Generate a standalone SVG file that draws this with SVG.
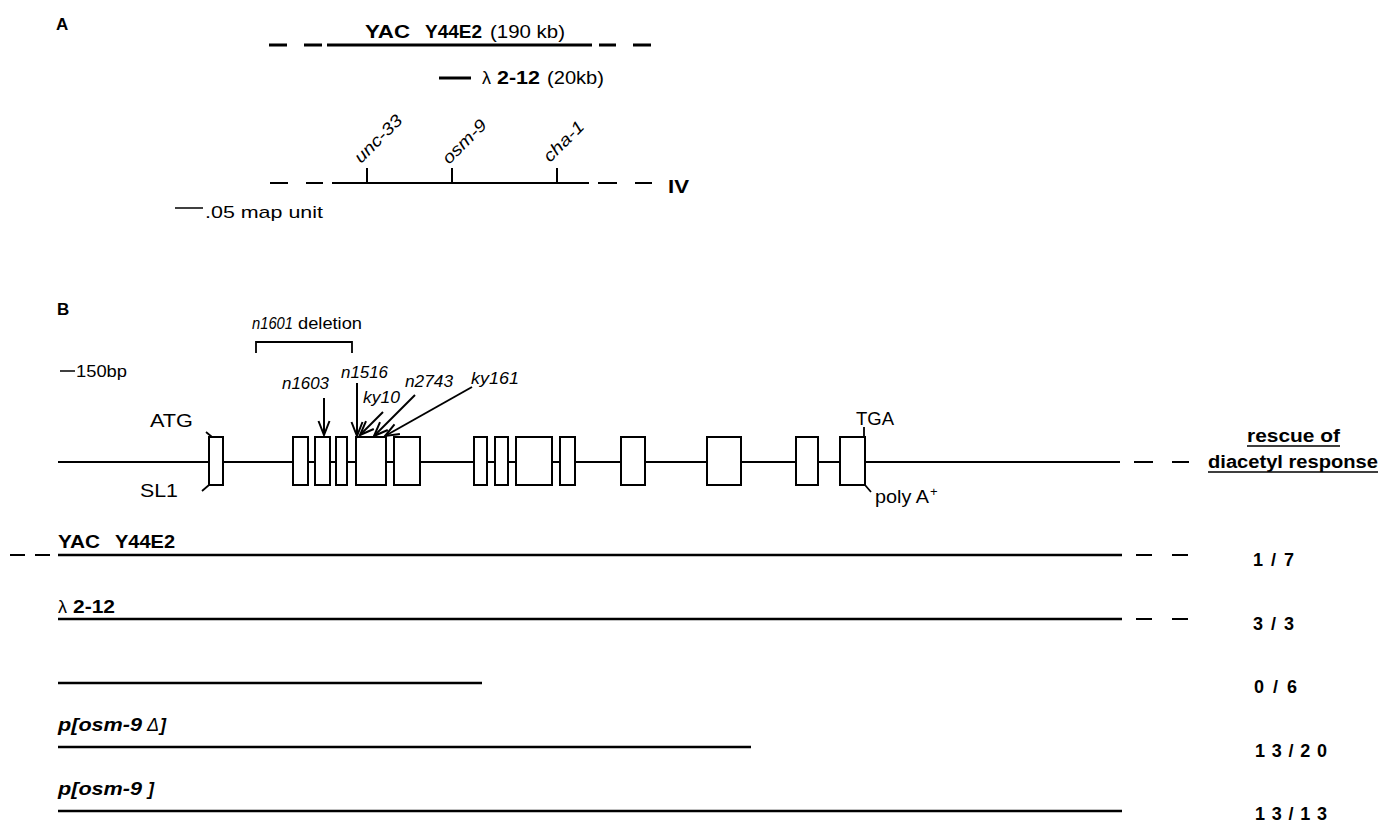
<svg xmlns="http://www.w3.org/2000/svg" width="1385" height="822" viewBox="0 0 1385 822">
<style>
text{font-family:"Liberation Sans",Arial,Helvetica,sans-serif;fill:#000}
.b{font-weight:bold}
.i{font-style:italic}
.ln{stroke:#000;fill:none}
.ex{fill:#fff;stroke:#000;stroke-width:2}
</style>
<defs>
<marker id="vee" markerUnits="userSpaceOnUse" markerWidth="18" markerHeight="14" viewBox="0 0 18 14" refX="15" refY="7" orient="auto">
<path d="M1,1.5 L15,7 L1,12.5" fill="none" stroke="#000" stroke-width="2"/>
</marker>
</defs>
<rect width="1385" height="822" fill="#fff"/>

<!-- Panel A -->
<g id="panelA">
<text x="56" y="30" class="b" font-size="17">A</text>
<g id="yacA">
<path class="ln" stroke-width="3" d="M269,45H287M304,45H322M327,45H592M599,45H616M633,45H651"/>
<text y="38" font-size="18"><tspan x="365" class="b" textLength="45" lengthAdjust="spacingAndGlyphs">YAC</tspan><tspan x="425" class="b" textLength="57" lengthAdjust="spacingAndGlyphs">Y44E2</tspan><tspan x="490" textLength="75" lengthAdjust="spacingAndGlyphs">(190 kb)</tspan></text>
</g>
<g id="lambdaA">
<path class="ln" stroke-width="3" d="M439,78H471"/>
<text y="84" font-size="18"><tspan x="482">λ</tspan><tspan x="497" class="b" textLength="43" lengthAdjust="spacingAndGlyphs">2-12</tspan><tspan x="547" textLength="57" lengthAdjust="spacingAndGlyphs">(20kb)</tspan></text>
</g>
<g id="chromIV">
<path class="ln" stroke-width="2" d="M270,183H288M306,183H323M332,183H589M598,183H617M635,183H652"/>
<path class="ln" stroke-width="2" d="M367,168V183M452,168V183M557,168V183"/>
<text x="668" y="193" class="b" font-size="19" textLength="21" lengthAdjust="spacingAndGlyphs">IV</text>
<text class="i" font-size="17" transform="translate(361,164) rotate(-45)" textLength="60" lengthAdjust="spacingAndGlyphs">unc-33</text>
<text class="i" font-size="17" transform="translate(449,165) rotate(-45)" textLength="55" lengthAdjust="spacingAndGlyphs">osm-9</text>
<text class="i" font-size="17" transform="translate(550,163) rotate(-45)" textLength="50" lengthAdjust="spacingAndGlyphs">cha-1</text>
</g>
<g id="scaleA">
<path class="ln" stroke-width="1.5" d="M175,208H203"/>
<text x="205" y="218" font-size="17" textLength="118" lengthAdjust="spacingAndGlyphs">.05 map unit</text>
</g>
</g>

<!-- Panel B -->
<g id="panelB">
<text x="57" y="315" class="b" font-size="17">B</text>
<g id="deletion">
<text y="329" font-size="16.5"><tspan x="252" class="i" textLength="41" lengthAdjust="spacingAndGlyphs">n1601</tspan><tspan x="298" textLength="64" lengthAdjust="spacingAndGlyphs">deletion</tspan></text>
<path class="ln" stroke-width="1.8" d="M256,353V342H352V353"/>
</g>
<g id="scaleB">
<path class="ln" stroke-width="1.5" d="M60,371H75"/>
<text x="76" y="377" font-size="16" textLength="51" lengthAdjust="spacingAndGlyphs">150bp</text>
</g>
<g id="gene">
<path class="ln" stroke-width="2" d="M58,462H1120M1134,462H1153M1172,462H1189"/>
<rect class="ex" x="209" y="437" width="14" height="48"/>
<rect class="ex" x="293" y="437" width="15" height="48"/>
<rect class="ex" x="315" y="437" width="15" height="48"/>
<rect class="ex" x="336" y="437" width="11" height="48"/>
<rect class="ex" x="356" y="437" width="30" height="48"/>
<rect class="ex" x="394" y="437" width="26" height="48"/>
<rect class="ex" x="474" y="437" width="13" height="48"/>
<rect class="ex" x="495" y="437" width="13" height="48"/>
<rect class="ex" x="516" y="437" width="36" height="48"/>
<rect class="ex" x="560" y="437" width="15" height="48"/>
<rect class="ex" x="621" y="437" width="24" height="48"/>
<rect class="ex" x="707" y="437" width="34" height="48"/>
<rect class="ex" x="796" y="437" width="22" height="48"/>
<rect class="ex" x="840" y="437" width="25" height="48"/>
<path class="ln" stroke-width="1.8" d="M206,432L212,437M202,491L209,485M864,427V437M865,485L871,492"/>
<text x="150" y="427" font-size="17.5" textLength="43" lengthAdjust="spacingAndGlyphs">ATG</text>
<text x="140" y="497" font-size="17.5" textLength="38" lengthAdjust="spacingAndGlyphs">SL1</text>
<text x="856" y="425" font-size="17.5" textLength="38" lengthAdjust="spacingAndGlyphs">TGA</text>
<text y="503" font-size="17.5"><tspan x="875" textLength="54" lengthAdjust="spacingAndGlyphs">poly A</tspan><tspan x="930" dy="-7" font-size="13">+</tspan></text>
</g>
<g id="mutations">
<text class="i" font-size="16.5" x="282" y="389" textLength="47" lengthAdjust="spacingAndGlyphs">n1603</text>
<text class="i" font-size="16.5" x="341" y="378" textLength="47" lengthAdjust="spacingAndGlyphs">n1516</text>
<text class="i" font-size="16.5" x="363" y="403" textLength="37" lengthAdjust="spacingAndGlyphs">ky10</text>
<text class="i" font-size="16.5" x="405" y="387" textLength="48" lengthAdjust="spacingAndGlyphs">n2743</text>
<text class="i" font-size="16.5" x="471" y="384" textLength="48" lengthAdjust="spacingAndGlyphs">ky161</text>
</g>
<g id="header">
<text x="1247" y="442" class="b" font-size="18" textLength="93" lengthAdjust="spacingAndGlyphs">rescue of</text>
<text x="1208" y="468" class="b" font-size="18" textLength="170" lengthAdjust="spacingAndGlyphs">diacetyl response</text>
<path class="ln" stroke-width="1.5" d="M1247,446H1340M1208,472H1378"/>
</g>
<g id="constructYAC">
<path class="ln" stroke-width="2" d="M10,555H25M35,555H50M1136,555H1152M1172,555H1188"/>
<path class="ln" stroke-width="2.5" d="M58,555H1122"/>
<text y="548" class="b" font-size="18"><tspan x="58" textLength="42" lengthAdjust="spacingAndGlyphs">YAC</tspan><tspan x="115" textLength="60" lengthAdjust="spacingAndGlyphs">Y44E2</tspan></text>
<text x="1253" y="566" class="b" font-size="18" textLength="41" lengthAdjust="spacing">1/7</text>
</g>
<g id="constructLambda">
<path class="ln" stroke-width="2" d="M1136,619H1152M1172,619H1188"/>
<path class="ln" stroke-width="2.5" d="M58,619H1122"/>
<text y="613" font-size="18"><tspan x="58">λ</tspan><tspan x="73" class="b" textLength="42" lengthAdjust="spacingAndGlyphs">2-12</tspan></text>
<text x="1253" y="630" class="b" font-size="18" textLength="41" lengthAdjust="spacing">3/3</text>
</g>
<g id="constructShort">
<path class="ln" stroke-width="2.5" d="M58,683H482"/>
<text x="1254" y="693" class="b" font-size="18" textLength="43" lengthAdjust="spacing">0/6</text>
</g>
<g id="constructDelta">
<path class="ln" stroke-width="2.5" d="M58,747H751"/>
<text y="731" class="b i" font-size="18"><tspan x="58" textLength="84" lengthAdjust="spacingAndGlyphs">p[osm-9</tspan><tspan x="147" font-weight="normal">Δ</tspan><tspan x="160">]</tspan></text>
<text x="1255" y="757" class="b" font-size="18" textLength="72" lengthAdjust="spacing">13/20</text>
</g>
<g id="constructFull">
<path class="ln" stroke-width="2.5" d="M58,811H1122"/>
<text y="795" class="b i" font-size="18"><tspan x="58" textLength="84" lengthAdjust="spacingAndGlyphs">p[osm-9</tspan><tspan x="148">]</tspan></text>
<text x="1255" y="820" class="b" font-size="18" textLength="72" lengthAdjust="spacing">13/13</text>
</g>
</g>

<g id="connectors">
<path class="ln" stroke-width="2" marker-end="url(#vee)" d="M324,398V435"/>
<path class="ln" stroke-width="2" marker-end="url(#vee)" d="M357,383V436"/>
<path class="ln" stroke-width="2" marker-end="url(#vee)" d="M383,412L360,435"/>
<path class="ln" stroke-width="2" marker-end="url(#vee)" d="M415,395L374,436"/>
<path class="ln" stroke-width="2" marker-end="url(#vee)" d="M472,387L385,436"/>
</g>
</svg>
